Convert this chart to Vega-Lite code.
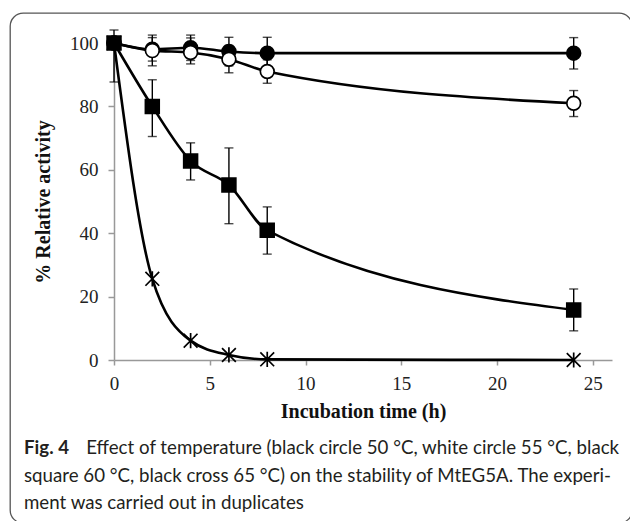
{
  "$schema": "https://vega.github.io/schema/vega-lite/v6.json",
  "width": 622,
  "height": 510,
  "autosize": {"type": "none"},
  "padding": {"left": 10, "top": 13, "right": 0, "bottom": 0},
  "background": "white",
  "config": {
    "view": {"stroke": "#555555", "strokeWidth": 1.3, "cornerRadius": 13},
    "axis": {"grid": false, "labelFlush": false}
  },
  "title": {
    "text": "Fig. 4",
    "subtitle": [
      "\u200b\u00a0\u00a0\u00a0\u00a0\u00a0\u00a0\u00a0\u00a0\u00a0\u00a0\u00a0\u00a0\u00a0Effect of temperature (black circle 50 °C, white circle 55 °C, black",
      "square 60 °C, black cross 65 °C) on the stability of MtEG5A. The experi-",
      "ment was carried out in duplicates"
    ],
    "orient": "bottom",
    "anchor": "start",
    "frame": "group",
    "offset": -84,
    "dx": 14,
    "font": "Lato",
    "fontSize": 18.7,
    "fontWeight": "bold",
    "color": "#231f20",
    "subtitleFont": "Lato",
    "subtitleFontSize": 18.7,
    "subtitleColor": "#231f20",
    "subtitleLineHeight": 27.5,
    "subtitlePadding": -18.7
  },
  "data": {
    "values": [
      {"s": "50", "t": 0, "v": 100},
      {"s": "50", "t": 2, "v": 98, "lo": 94.3, "hi": 101.7},
      {"s": "50", "t": 4, "v": 98.5, "lo": 94.5, "hi": 102.5},
      {"s": "50", "t": 6, "v": 97.3, "lo": 92.8, "hi": 101.8},
      {"s": "50", "t": 8, "v": 96.8, "lo": 91.8, "hi": 101.8},
      {"s": "50", "t": 24, "v": 96.8, "lo": 91.8, "hi": 101.7},
      {"s": "55", "t": 0, "v": 100},
      {"s": "55", "t": 2, "v": 97.6, "lo": 92.8, "hi": 102.5},
      {"s": "55", "t": 4, "v": 97, "lo": 93.4, "hi": 101.6},
      {"s": "55", "t": 6, "v": 94.9, "lo": 90.6, "hi": 99.2},
      {"s": "55", "t": 8, "v": 91, "lo": 87.3, "hi": 94.7},
      {"s": "55", "t": 24, "v": 81, "lo": 76.8, "hi": 85},
      {"s": "60", "t": 0, "v": 100, "lo": 87.7, "hi": 104.1},
      {"s": "60", "t": 2, "v": 80, "lo": 70.5, "hi": 88.4},
      {"s": "60", "t": 4, "v": 62.8, "lo": 56.8, "hi": 68.5},
      {"s": "60", "t": 6, "v": 55.2, "lo": 43, "hi": 66.9},
      {"s": "60", "t": 8, "v": 40.9, "lo": 33.4, "hi": 48.3},
      {"s": "60", "t": 24, "v": 15.8, "lo": 9.2, "hi": 22.4},
      {"s": "65", "t": 0, "v": 100},
      {"s": "65", "t": 2, "v": 25.6},
      {"s": "65", "t": 4, "v": 6.1},
      {"s": "65", "t": 6, "v": 1.6},
      {"s": "65", "t": 8, "v": 0.2},
      {"s": "65", "t": 24, "v": 0}
    ]
  },
  "encoding": {
    "x": {
      "field": "t",
      "type": "quantitative",
      "scale": {"domain": [0, 26], "range": [104, 602], "nice": false, "zero": false},
      "axis": {
        "values": [0, 5, 10, 15, 20, 25],
        "offset": -163,
        "labelFont": "Liberation Serif",
        "labelFontSize": 19,
        "labelColor": "#222222",
        "labelPadding": 9,
        "domainColor": "#999999",
        "domainWidth": 1.5,
        "tickColor": "#999999",
        "tickWidth": 1.5,
        "tickSize": 5,
        "title": "Incubation time (h)",
        "titleFont": "Liberation Serif",
        "titleFontSize": 20,
        "titleFontWeight": "bold",
        "titleColor": "#111111",
        "titlePadding": 8
      }
    },
    "y": {
      "field": "v",
      "type": "quantitative",
      "scale": {"domain": [0, 100], "range": [347, 30], "nice": false, "zero": false},
      "axis": {
        "values": [0, 20, 40, 60, 80, 100],
        "offset": -104,
        "labelFont": "Liberation Serif",
        "labelFontSize": 19,
        "labelColor": "#222222",
        "labelPadding": 10,
        "domainColor": "#999999",
        "domainWidth": 1.5,
        "tickColor": "#999999",
        "tickWidth": 1.5,
        "tickSize": 6,
        "title": "% Relative activity",
        "titleFont": "Liberation Serif",
        "titleFontSize": 20,
        "titleFontWeight": "bold",
        "titleColor": "#111111",
        "titlePadding": 16
      }
    }
  },
  "layer": [
    {
      "mark": {"type": "line", "interpolate": "monotone", "color": "black", "strokeWidth": 2.6},
      "encoding": {"detail": {"field": "s"}}
    },
    {
      "transform": [{"filter": "isValid(datum.lo)"}],
      "mark": {"type": "rule", "color": "black", "strokeWidth": 1.4},
      "encoding": {"y": {"field": "lo", "type": "quantitative"}, "y2": {"field": "hi"}}
    },
    {
      "transform": [{"filter": "isValid(datum.lo)"}],
      "mark": {"type": "tick", "orient": "horizontal", "color": "black", "size": 9, "thickness": 1.4},
      "encoding": {"y": {"field": "lo", "type": "quantitative"}}
    },
    {
      "transform": [{"filter": "isValid(datum.hi)"}],
      "mark": {"type": "tick", "orient": "horizontal", "color": "black", "size": 9, "thickness": 1.4},
      "encoding": {"y": {"field": "hi", "type": "quantitative"}}
    },
    {
      "mark": {"type": "point", "filled": false, "stroke": "black", "strokeWidth": 1.7, "opacity": 1},
      "encoding": {
        "shape": {"field": "s", "type": "nominal", "legend": null,
          "scale": {"domain": ["50", "55", "60", "65"], "range": ["circle", "circle", "square", "M-1,-1L1,1M1,-1L-1,1M0,-1.1L0,1.1"]}},
        "fill": {"field": "s", "type": "nominal", "legend": null,
          "scale": {"domain": ["50", "55", "60", "65"], "range": ["black", "white", "black", "black"]}},
        "size": {"field": "s", "type": "nominal", "legend": null,
          "scale": {"domain": ["50", "55", "60", "65"], "range": [190, 190, 210, 200]}}
      }
    }
  ]
}
